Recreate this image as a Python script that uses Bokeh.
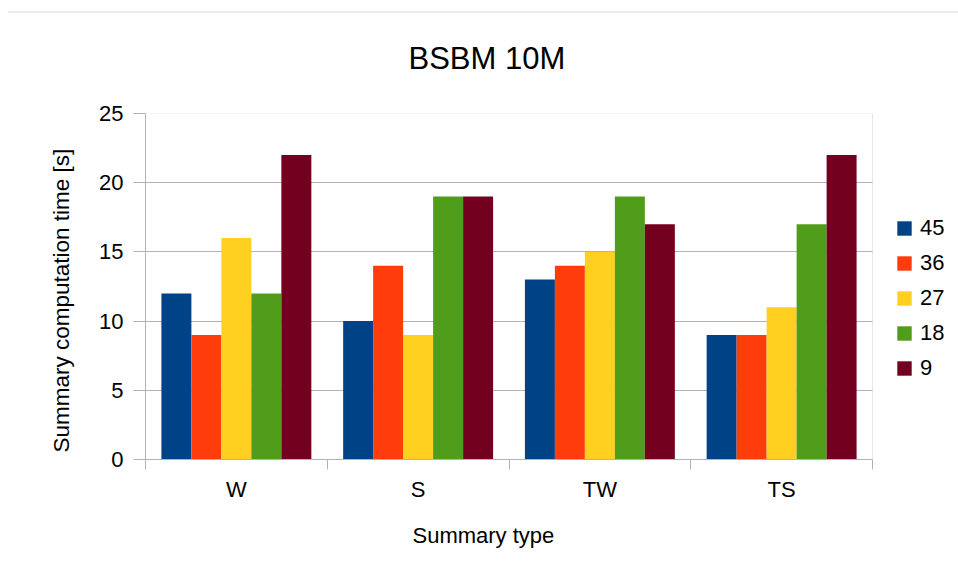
from bokeh.plotting import figure
from bokeh.models import (Range1d, FixedTicker, Legend, LegendItem, ColumnDataSource, Div,
                          BoxAnnotation, Title)
from bokeh.layouts import column
from bokeh.transform import dodge
from bokeh.embed import file_html
from bokeh.resources import INLINE

# ---- data ----
title_text = "BSBM 10M"
categories = ["W", "S", "TW", "TS"]
series_names = ["45", "36", "27", "18", "9"]
v45 = [12, 10, 13, 9]
v36 = [9, 14, 14, 9]
v27 = [16, 9, 15, 11]
v18 = [12, 19, 19, 17]
v9 = [22, 19, 17, 22]
y_ticks = [0, 5, 10, 15, 20, 25]
y_max = 25
x_label = "Summary type"
y_label = "Summary computation time [s]"

series_values = [v45, v36, v27, v18, v9]
bar_colors = ["#004286", "#ff3d0c", "#ffd020", "#4f9d1b", "#74001f"]

FONT = "Liberation Sans"
GRAY = "#b3b3b3"

# layout (pixels)
FIG_W, FIG_H = 958, 568
LEFT, TOP = 145, 108
PLOT_W = 727            # width of the category area
BOTTOM = 114

n = len(categories)
x_pos = [i + 0.5 for i in range(n)]
data = {"x": x_pos}
for name, vals in zip(series_names, series_values):
    data["s" + name] = vals
src = ColumnDataSource(data)

x_end = n * (FIG_W - LEFT) / PLOT_W   # frame extends under the legend area
p = figure(width=FIG_W, height=FIG_H, x_range=Range1d(0, x_end), y_range=Range1d(0, y_max),
           output_backend="svg", toolbar_location=None,
           min_border_left=LEFT, min_border_right=0, min_border_top=TOP, min_border_bottom=BOTTOM)
p.border_fill_alpha = 0

p.title.text = title_text
p.title.align = "left"
p.title.offset = 263
p.title.vertical_align = "top"
p.title.text_font = FONT
p.title.text_font_size = "31px"
p.title.text_font_style = "normal"
p.title.text_color = "#000000"
p.title.standoff = 71

# grey lines only over the category area
p.xgrid.grid_line_color = None
p.ygrid.grid_line_color = GRAY
p.outline_line_color = None
p.add_layout(BoxAnnotation(left=n, fill_color="white", fill_alpha=1.0, line_color=None,
                           level="underlay"))
p.add_layout(BoxAnnotation(left=0, right=n, bottom=0, top=y_max, fill_alpha=0,
                           line_color=GRAY, line_width=1, level="underlay"))

bar_w = 0.165
offsets = [(-2 + j) * bar_w for j in range(len(series_names))]
items = []
for j, name in enumerate(series_names):
    r = p.vbar(x=dodge("x", offsets[j], range=p.x_range), top="s" + name, width=bar_w,
               source=src, fill_color=bar_colors[j], line_color=None)
    items.append(LegendItem(label=name, renderers=[r]))

legend = Legend(items=items, location=(750, 78), border_line_color=None,
                background_fill_alpha=0, padding=0, margin=0,
                glyph_width=18, glyph_height=18, label_height=18, spacing=9,
                label_standoff=7, label_text_font=FONT, label_text_font_size="22px",
                label_text_color="#000000")
p.add_layout(legend, "center")

# axes
p.yaxis.ticker = FixedTicker(ticks=y_ticks)
p.yaxis.major_label_text_font = FONT
p.yaxis.major_label_text_font_size = "22px"
p.yaxis.major_label_text_color = "#000000"
p.yaxis.major_label_standoff = 10
p.yaxis.major_tick_out = 12
p.yaxis.major_tick_in = 0
p.yaxis.minor_tick_line_color = None
p.yaxis.axis_line_color = GRAY
p.yaxis.major_tick_line_color = GRAY

p.xaxis.bounds = (0, n)
p.xaxis.ticker = FixedTicker(ticks=x_pos, minor_ticks=list(range(n + 1)))
p.xaxis.major_label_overrides = {x: c for x, c in zip(x_pos, categories)}
p.xaxis.major_label_text_font = FONT
p.xaxis.major_label_text_font_size = "22px"
p.xaxis.major_label_text_color = "#000000"
p.xaxis.major_label_standoff = 7
p.xaxis.major_tick_line_color = None
p.xaxis.major_tick_out = 10
p.xaxis.major_tick_in = 0
p.xaxis.minor_tick_out = 10
p.xaxis.minor_tick_in = 0
p.xaxis.minor_tick_line_color = GRAY
p.xaxis.axis_line_color = GRAY

# axis titles
p.add_layout(Title(text=x_label, align="left", offset=267, vertical_align="top",
                   standoff=36, text_font=FONT, text_font_size="22px",
                   text_font_style="normal", text_color="#000000"), "below")
p.add_layout(Title(text=y_label, align="left", offset=7, vertical_align="bottom",
                   standoff=45, text_font=FONT, text_font_size="22.5px",
                   text_font_style="normal", text_color="#000000"), "left")

sep = Div(text="", width=950, height=2, margin=(11, 0, -8, 8),
          styles={"background-color": "#e8ecf1"})
layout = column(sep, p, spacing=0)

open("out.html", "w").write(file_html(layout, INLINE))
